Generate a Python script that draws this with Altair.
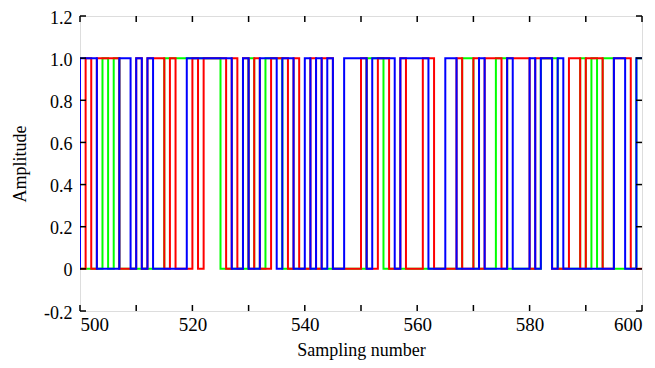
import altair as alt
import pandas as pd

# sample index 500..599 ; value holds on [n, n+1)
start = 500
red_bits = ("0101111000" "1011101000" "1011110101" "0100111010" "0101100000"
            "1001100100" "0110000100" "1011101111" "0111000110" "1110011100")
green_bits = ("0000101000" "0000011111" "1111100000" "1001110000" "0000000000"
              "0111000000" "0000000011" "0000110000" "0011100001" "0101100001")
blue_bits = ("1110000110" "1010000001" "1111111001" "0011101100" "1010100111"
             "1011110111" "1100011000" "0100001000" "1011010000" "0000011001")

y_ticks = [-0.2, 0.0, 0.2, 0.4, 0.6, 0.8, 1.0, 1.2]
x_ticks = [500, 510, 520, 530, 540, 550, 560, 570, 580, 590, 600]

rows = []
for name, bits in (("green", green_bits), ("red", red_bits), ("blue", blue_bits)):
    rows.append({"s": name, "x": start - 1, "v": 0})
    for i, b in enumerate(bits):
        rows.append({"s": name, "x": start + i, "v": int(b)})
    rows.append({"s": name, "x": start + len(bits), "v": int(bits[-1])})
df = pd.DataFrame(rows)

FONT = "Liberation Serif"
W, H = 562, 295
xs = alt.Scale(domain=[500, 600], nice=False, zero=False)
ys = alt.Scale(domain=[-0.2, 1.2], nice=False, zero=False)

def line(name, color):
    return alt.Chart(df).transform_filter(alt.datum.s == name).mark_line(
        interpolate="step-after", color=color, strokeWidth=2, clip=True
    ).encode(
        x=alt.X("x:Q", scale=xs, axis=alt.Axis(values=x_ticks[::2], title="Sampling number",
                labelFont=FONT, labelFontSize=19, titleFont=FONT, titleFontSize=18,
                titleFontWeight="normal", ticks=False, domain=False, grid=False,
                labelPadding=4, titlePadding=7, labelColor="black", titleColor="black")),
        y=alt.Y("v:Q", scale=ys, axis=alt.Axis(values=y_ticks, title="Amplitude",
                labelExpr="datum.value == 0 ? '0' : replace(format(datum.value, '.1f'), '\u2212', '-')",
                labelFont=FONT, labelFontSize=18, titleFont=FONT, titleFontSize=18,
                titleFontWeight="normal", ticks=False, domain=False, grid=False,
                labelOffset=2, labelPadding=8, titlePadding=14,
                labelColor="black", titleColor="black")),
    )

ytdf = pd.DataFrame({"t": y_ticks})
xtdf = pd.DataFrame({"t": x_ticks})
tick_l = alt.Chart(ytdf).mark_rule(color="black", strokeWidth=1.5).encode(
    y=alt.Y("t:Q", scale=ys), x=alt.value(0), x2=alt.value(6))
tick_r = alt.Chart(ytdf).mark_rule(color="black", strokeWidth=1.5).encode(
    y=alt.Y("t:Q", scale=ys), x=alt.value(W), x2=alt.value(W - 6))
tick_b = alt.Chart(xtdf).mark_rule(color="black", strokeWidth=1.5).encode(
    x=alt.X("t:Q", scale=xs), y=alt.value(H), y2=alt.value(H - 6))
tick_t = alt.Chart(xtdf).mark_rule(color="black", strokeWidth=1.5).encode(
    x=alt.X("t:Q", scale=xs), y=alt.value(0), y2=alt.value(6))

chart = alt.layer(
    line("green", "#00ff00"), line("red", "#ff0000"), line("blue", "#0000ff"),
    tick_l, tick_r, tick_b, tick_t
).properties(
    width=W, height=H,
    padding={"left": 72, "top": 8, "right": 5, "bottom": 50},
    autosize=alt.AutoSizeParams(type="none"),
).configure_view(stroke="black", strokeWidth=2).configure(background="white")

chart.save("out.html", embed_options={"renderer": "svg", "actions": False})
